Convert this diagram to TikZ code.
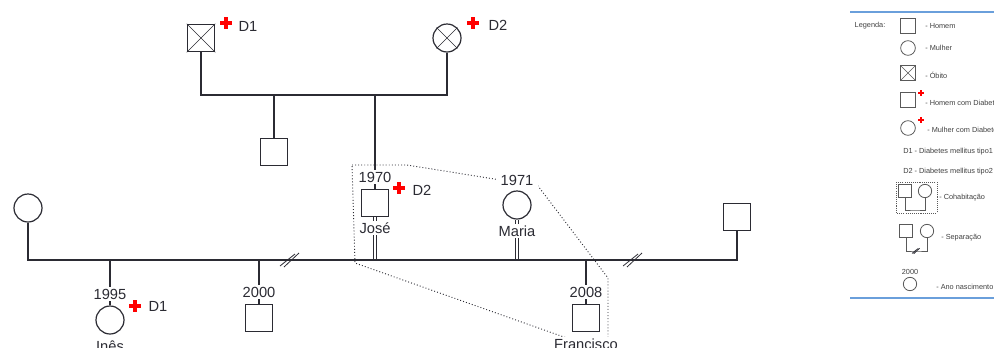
\documentclass[tikz,border=0pt]{standalone}
\usepackage{fontspec}
\setmainfont{Liberation Sans}
\usepackage{tikz}
\usetikzlibrary{shapes,arrows}
\definecolor{lblue}{HTML}{6A9FDB}
\definecolor{tinta}{HTML}{2B2B33}
\tikzstyle{homem} = [rectangle, draw=tinta, line width=0.9pt, minimum size=20.5pt, inner sep=0pt]
\tikzstyle{mulher} = [circle, draw=tinta, line width=0.9pt, minimum size=21pt, inner sep=0pt]
\tikzstyle{line} = [draw=tinta, line width=0.9pt]
\tikzstyle{dupla} = [draw=tinta, line width=0.6pt, double, double distance=1.1pt]
\tikzstyle{ano} = [fill=white, inner xsep=3.5pt, inner ysep=1pt, text=tinta, font=\fontsize{11}{13}\selectfont]
\tikzstyle{nome} = [fill=white, inner sep=1pt, text=tinta, font=\fontsize{11}{13}\selectfont]
\tikzstyle{doenca} = [text=tinta, font=\fontsize{11}{13}\selectfont]
\tikzstyle{boundingbox} = [draw=tinta, line width=0.7pt, dash pattern=on 0.7pt off 1.6pt]
\tikzstyle{leghomem} = [rectangle, draw=gray!70!black, line width=0.6pt, minimum size=11pt, inner sep=0pt]
\tikzstyle{legmulher} = [circle, draw=gray!70!black, line width=0.6pt, minimum size=11pt, inner sep=0pt]
\tikzstyle{legtexto} = [text=black!75, inner sep=0pt, font=\fontsize{5.5}{6.5}\selectfont]
\tikzset{
  cruz/.pic={\fill[red] (-6,-2) rectangle (6,2); \fill[red] (-2,-6) rectangle (2,6);},
  quebra/.pic={\draw[tinta, line width=0.6pt] (-10,6) -- (5,-6); \draw[tinta, line width=0.6pt] (-6,7) -- (9,-7);}
}

\begin{document}
\begin{tikzpicture}[x=0.75pt, y=-0.75pt]
\useasboundingbox (0,0) rectangle (994,347);

%% avos
\node [homem] at (201, 38) (avo) {};
\node [mulher] at (447, 38) (avoa) {};
\draw [tinta, line width=0.5pt] (avo.north west) -- (avo.south east) (avo.north east) -- (avo.south west);
\draw [tinta, line width=0.5pt] (avoa.north west) -- (avoa.south east) (avoa.north east) -- (avoa.south west);
\coordinate (casal1) at (375, 95);
\path [line] (avo.south) |- (casal1) -| (avoa.south);

\node [homem] at (274, 152) (tio) {};
\path [line] (tio.north) -- (tio.north |- casal1);

%% pais
\node [homem] at (375, 203) (jose) {};
\path [line] (jose.north) -- (jose.north |- casal1);
\node [mulher] at (517, 205) (maria) {};
\node [mulher] at (28, 208) (exjose) {};
\node [homem] at (737, 217) (exmaria) {};
\coordinate (casal2) at (400, 260);
\path [dupla] (jose.south) -- ([yshift=-0.5]jose.south |- casal2);
\path [dupla] (maria.south) -- ([yshift=-0.5]maria.south |- casal2);
\path [line] (exjose.south) |- (casal2) -| (exmaria.south);
\pic at (290, 260) {quebra};
\pic at (633, 260) {quebra};

%% filhos
\node [mulher] at (110, 320) (ines) {};
\node [homem] at (259, 318) (filho) {};
\node [homem] at (586, 318) (francisco) {};
\path [line] (ines.north) -- (ines.north |- casal2);
\path [line] (filho.north) -- (filho.north |- casal2);
\path [line] (francisco.north) -- (francisco.north |- casal2);

%% coabitacao
\draw [boundingbox] (352, 165) -- (407, 165) -- (538, 186) -- (608, 278) -- (608, 342) -- (578, 342) -- (355, 263) -- cycle;

%% textos
\node [ano] at (375, 177) (anojose) {1970};
\node [ano] at (517, 180) (anomaria) {1971};
\node [ano] at (110, 294) (anoines) {1995};
\node [ano] at (259, 292) (anofilho) {2000};
\node [ano] at (586, 292) (anofrancisco) {2008};
\node [nome] at (375, 228) (nomejose) {José};
\node [nome] at (517, 231) (nomemaria) {Maria};
\node [nome] at (110, 346) (nomeines) {Inês};
\node [nome] at (586, 344) (nomefrancisco) {Francisco};

\pic at (226, 23) {cruz};
\node [doenca] at (248, 26) (davo) {D1};
\pic at (473, 23) {cruz};
\node [doenca] at (498, 25) (davoa) {D2};
\pic at (399, 188) {cruz};
\node [doenca] at (422, 190) (djose) {D2};
\pic at (135, 306) {cruz};
\node [doenca] at (158, 306) (dines) {D1};

%% legenda
\draw [lblue, line width=1pt] (850, 12) -- (994, 12);
\draw [lblue, line width=1pt] (850, 298) -- (994, 298);
\node [legtexto] at (870, 26) (legenda) {Legenda:};

\node [leghomem] at (908, 26) (lhomem) {};
\node [legtexto, anchor=west] at (925, 26) (lhomemt) {- Homem};
\node [legmulher] at (908, 48) (lmulher) {};
\node [legtexto, anchor=west] at (925, 48) (lmulhert) {- Mulher};
\node [leghomem] at (908, 73) (lobito) {};
\draw [gray!70!black, line width=0.4pt] (lobito.north west) -- (lobito.south east) (lobito.north east) -- (lobito.south west);
\node [legtexto, anchor=west] at (925, 75) (lobitot) {- Óbito};
\node [leghomem] at (908, 100) (lhomemd) {};
\pic [scale=0.5] at (921, 93) {cruz};
\node [legtexto, anchor=west] at (925, 103) (lhomemdt) {- Homem com Diabetes};
\node [legmulher] at (908, 128) (lmulherd) {};
\pic [scale=0.5] at (921, 120) {cruz};
\node [legtexto, anchor=west] at (927, 130) (lmulherdt) {- Mulher com Diabetes};
\node [legtexto, anchor=west] at (903, 152) (ld1) {D1 - Diabetes mellitus tipo1};
\node [legtexto, anchor=west] at (903, 172) (ld2) {D2 - Diabetes mellitus tipo2};

\draw [gray!70!black, line width=0.4pt, dash pattern=on 0.8pt off 0.8pt] (896, 182) rectangle (937, 213);
\node [leghomem, minimum size=10pt] at (905, 191) (lcoh) {};
\node [legmulher, minimum size=10pt] at (925, 191) (lcom) {};
\coordinate (lcoc) at (915, 210);
\draw [gray!70!black, line width=0.6pt] (lcoh.south) |- (lcoc) -| (lcom.south);
\node [legtexto, anchor=west] at (939, 198) (lcot) {- Cohabitação};

\node [leghomem, minimum size=10pt] at (906, 231) (lseh) {};
\node [legmulher, minimum size=10pt] at (927, 231) (lsem) {};
\coordinate (lsec) at (916, 251);
\draw [gray!70!black, line width=0.6pt] (lseh.south) |- (lsec) -| (lsem.south);
\pic [scale=0.4] at (lsec) {quebra};
\node [legtexto, anchor=west] at (941, 238) (lset) {- Separação};

\node [legtexto] at (910, 272) (lano) {2000};
\node [legmulher, minimum size=10pt] at (910, 284) (lanom) {};
\node [legtexto, anchor=west] at (936, 287) (lanot) {- Ano nascimento};
\end{tikzpicture}
\end{document}
